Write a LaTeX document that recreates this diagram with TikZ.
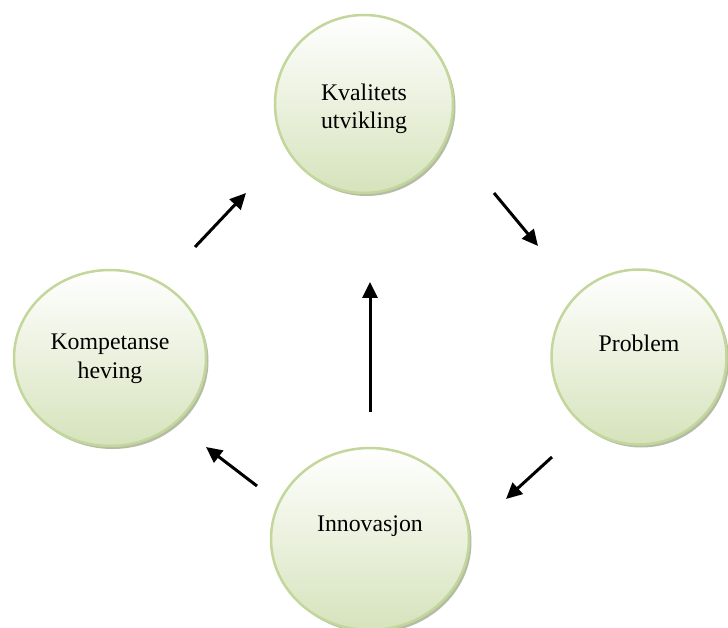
\documentclass[tikz,border=0pt]{standalone}
\usepackage{fontspec}
\setmainfont{Liberation Serif}
\usepackage{tikz}
\usetikzlibrary{arrows.meta,positioning,shapes.geometric,shadows}
\definecolor{ringgreen}{RGB}{195,214,155}
\definecolor{fillgreen}{RGB}{214,227,188}
\definecolor{shadegreen}{RGB}{150,160,128}

\begin{document}
\begin{tikzpicture}[
    x=1pt, y=-1pt,
    bubble/.style={ellipse, draw=ringgreen, line width=2.5pt,
                   top color=white, bottom color=fillgreen,
                   drop shadow={shadow xshift=2.5pt, shadow yshift=-3pt,
                                fill=shadegreen, opacity=0.7}},
    txt/.style={font=\fontsize{23.8}{28.5}\selectfont, align=center},
    arrow/.style={-{Triangle[length=16pt,width=15pt]}, line width=3pt}
]
\useasboundingbox (0,0) rectangle (728,628);

% the four stages
\node[bubble, minimum width=178pt, minimum height=178pt] (kval) at (364,104) {};
\node[bubble, minimum width=175pt, minimum height=175pt] (prob) at (639,357) {};
\node[bubble, minimum width=192pt, minimum height=176pt] (komp) at (110,358) {};
\node[bubble, minimum width=198pt, minimum height=182pt] (inno) at (370,539) {};

\node[txt] (tkval) at ([yshift=-5pt]kval.center) {Kvalitets\\utvikling};
\node[txt, anchor=base] (tprob) at ([yshift=6pt]prob.center) {Problem};
\node[txt] (tkomp) at ([yshift=-1pt]komp.center) {Kompetanse\\heving};
\node[txt, anchor=base] (tinno) at ([yshift=8pt]inno.center) {Innovasjon};

% arrow ends
\coordinate (a1) at (195,247);  \coordinate (b1) at (246,193);
\coordinate (a2) at (494,193);  \coordinate (b2) at (538,246);
\coordinate (a3) at (552,457);  \coordinate (b3) at (506,499);
\coordinate (a4) at (257,486);  \coordinate (b4) at (206,447);
\coordinate (a5) at (370,412);  \coordinate (b5) at (370,282);

\draw[arrow] (a1) -- (b1);
\draw[arrow] (a2) -- (b2);
\draw[arrow] (a3) -- (b3);
\draw[arrow] (a4) -- (b4);
\draw[arrow] (a5) -- (b5);
\end{tikzpicture}
\end{document}
